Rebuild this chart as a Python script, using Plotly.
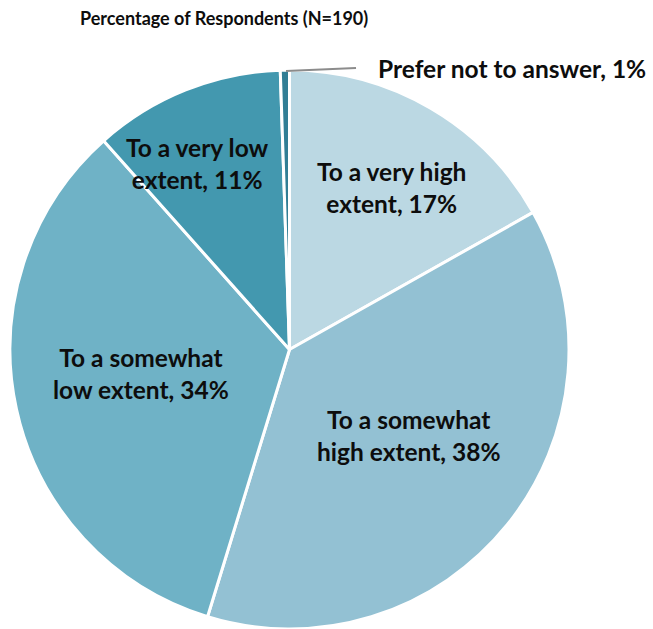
import plotly.graph_objects as go

W, H = 653, 629

# counts out of N=190, clockwise from 12 o'clock
labels = ["To a very high extent", "To a somewhat high extent", "To a somewhat low extent",
          "To a very low extent", "Prefer not to answer"]
counts = [32, 72, 64, 21, 1]
label_text = ["To a very high<br>extent, 17%", "To a somewhat<br>high extent, 38%",
              "To a somewhat<br>low extent, 34%", "To a very low<br>extent, 11%",
              "Prefer not to answer, 1%"]
colors = ["#BBD8E3", "#93C1D3", "#6FB2C6", "#4398AF", "#317E95"]

# label centres in pixels
label_pos = [(391, 188), (408, 435), (141, 373), (197, 163), (376, 68)]

fig = go.Figure()
fig.add_trace(go.Pie(
    labels=labels, values=counts, sort=False, direction="clockwise", rotation=0,
    marker=dict(colors=colors, line=dict(color="white", width=3)),
    textinfo="none", hoverinfo="label+percent", showlegend=False,
    domain=dict(x=[10 / W, 569 / W], y=[0, 559 / H]),
))

font = dict(family="Lato, Calibri, sans-serif", size=24.5, color="#0d0d0d")
for i, (txt, (px, py)) in enumerate(zip(label_text, label_pos)):
    last = i == len(label_text) - 1
    fig.add_annotation(
        x=px / W, y=1 - py / H, xref="paper", yref="paper", text="<b>%s</b>" % txt,
        showarrow=False, font=font, align="center",
        xanchor="left" if last else "center", yanchor="middle",
    )

# leader line to the tiny slice
fig.add_shape(type="line", xref="paper", yref="paper",
              x0=286 / W, y0=1 - 71 / H, x1=356 / W, y1=1 - 68 / H,
              line=dict(color="#8c8c8c", width=2))

fig.add_annotation(x=224 / W, y=1 - 18 / H, xref="paper", yref="paper",
                   text="<b>Percentage of Respondents (N=190)</b>", showarrow=False,
                   font=dict(family="Lato, Calibri, sans-serif", size=18, color="#0d0d0d"),
                   xanchor="center", yanchor="middle")

fig.update_layout(width=W, height=H, margin=dict(l=0, r=0, t=0, b=0),
                  paper_bgcolor="white", plot_bgcolor="white")

# drop the default 8px body margin so the figure sits at the window corner
fig.write_html("out.html", config={"displayModeBar": False},
               post_script="document.body.style.margin='0';")
